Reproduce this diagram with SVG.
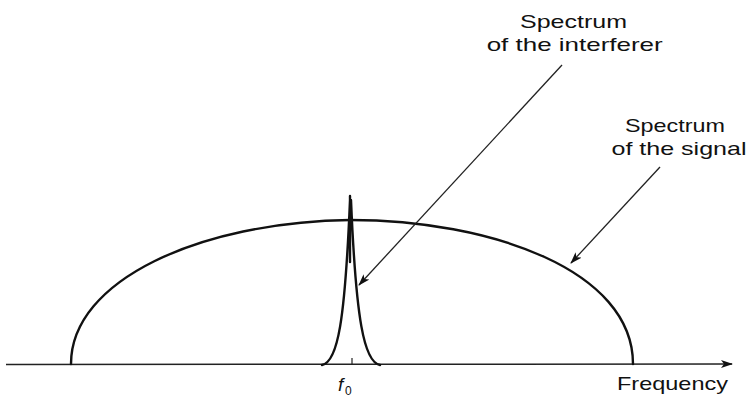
<svg xmlns="http://www.w3.org/2000/svg" width="749" height="399" viewBox="0 0 749 399">
<defs>
<style>
.lbl{font-family:"Liberation Sans",Arial,sans-serif;font-size:18.5px;fill:#111}
.curve{fill:none;stroke:#111;stroke-width:2.4;stroke-linecap:round}
.conn{fill:none;stroke:#222;stroke-width:1.3}
</style>
<marker id="ah" viewBox="0 0 12 8" refX="11" refY="4" markerWidth="12" markerHeight="8" markerUnits="userSpaceOnUse" orient="auto">
<path d="M0,0 L12,4 L0,8 L3,4 Z" fill="#111"/>
</marker>
</defs>
<rect width="749" height="399" fill="#fff"/>
<g id="axis">
<line x1="6" y1="364.5" x2="732" y2="364" stroke="#222" stroke-width="1.5" marker-end="url(#ah)"/>
<line x1="352" y1="358" x2="352" y2="365" stroke="#222" stroke-width="1.2"/>
<text x="617" y="390" class="lbl" textLength="111" lengthAdjust="spacingAndGlyphs">Frequency</text>
<text x="338" y="391" font-family="'Liberation Sans',Arial,sans-serif" font-size="19" font-style="italic" fill="#111">f</text>
<text x="345" y="395" font-family="'Liberation Sans',Arial,sans-serif" font-size="12" fill="#111">0</text>
</g>
<g id="signal">
<path class="curve" d="M71,364 C71,280 200,222 350,220 C490,220 633,270 633,364"/>
</g>
<g id="interferer">
<path class="curve" d="M322,365 C338,362 345,320 350,200 M380,365 C364,362 356,320 351,200 M350,196 L350,262"/>
</g>
<g id="label-interferer">
<text x="573.5" y="27.5" class="lbl" text-anchor="middle" textLength="107" lengthAdjust="spacingAndGlyphs">Spectrum</text>
<text x="574.7" y="51" class="lbl" text-anchor="middle" textLength="176" lengthAdjust="spacingAndGlyphs">of the interferer</text>
</g>
<g id="label-signal">
<text x="675" y="131.5" class="lbl" text-anchor="middle" textLength="100" lengthAdjust="spacingAndGlyphs">Spectrum</text>
<text x="679" y="155" class="lbl" text-anchor="middle" textLength="135" lengthAdjust="spacingAndGlyphs">of the signal</text>
</g>
<g id="connectors">
<line class="conn" x1="562" y1="65" x2="359" y2="285" marker-end="url(#ah)"/>
<line class="conn" x1="660" y1="167" x2="571" y2="263" marker-end="url(#ah)"/>
</g>
</svg>
